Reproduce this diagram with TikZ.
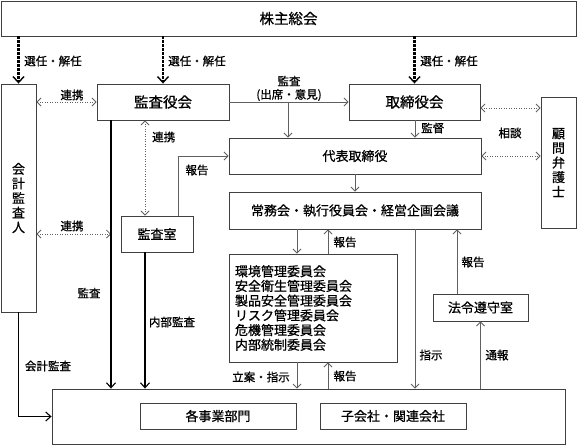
\documentclass[tikz,border=0pt]{standalone}
\usepackage{fontspec}
\setmainfont{Noto Sans CJK JP}[FakeBold=0.8]
\usetikzlibrary{arrows.meta}
\definecolor{boxcol}{HTML}{404040}
\definecolor{linecol}{HTML}{606060}
\begin{document}
\begin{tikzpicture}[x=1pt,y=-1pt,
  box/.style={draw=boxcol, line width=0.9pt, inner sep=0pt, font=\fontsize{13}{14.6}\selectfont},
  bigbox/.style={box, font=\fontsize{14.5}{16}\selectfont},
  lab/.style={inner sep=0pt, font=\fontsize{11.5}{13}\selectfont},
  thinarr/.style={draw=linecol, line width=0.8pt, -{Straight Barb[length=4pt 0,width=8pt 0,line width=0.8pt]}},
  thickarr/.style={draw=black, line width=1.1pt, -{Straight Barb[length=5pt 0,width=9pt 0,line width=1.1pt]}},
  dotarr/.style={draw=black, line width=2.2pt, dash pattern=on 2.2pt off 1.8pt, -{Straight Barb[length=6pt 0,width=11pt 0,line width=1.4pt]}},
  dotboth/.style={draw=linecol, line width=0.8pt, dash pattern=on 1pt off 1.5pt, {Straight Barb[length=4pt 0,width=8pt 0,line width=0.8pt]}-{Straight Barb[length=4pt 0,width=8pt 0,line width=0.8pt]}}
]
\useasboundingbox (0,0) rectangle (577,445);
% boxes
\node[bigbox, minimum width=575pt, minimum height=35pt] (sh) at (288.5,18.5) {株主総会};
\node[box, minimum width=35pt, minimum height=228pt, align=center] (kaikei) at (18.5,198) {会\\計\\監\\査\\人};
\node[bigbox, minimum width=132pt, minimum height=36pt] (kansayaku) at (163,102) {監査役会};
\node[bigbox, minimum width=131pt, minimum height=36pt] (torishimari) at (414.5,102) {取締役会};
\node[box, minimum width=35pt, minimum height=131pt, align=center] (komon) at (558.5,162.5) {顧\\問\\弁\\護\\士};
\node[box, minimum width=252pt, minimum height=36pt] (daihyo) at (355,156) {代表取締役};
\node[box, minimum width=252pt, minimum height=37pt] (jomu) at (355,210.5) {常務会・執行役員会・経営企画会議};
\node[box, minimum width=72pt, minimum height=36pt] (kansashitsu) at (157,234) {監査室};
\node[box, minimum width=168pt, minimum height=108pt, inner xsep=6pt, text width=156pt, align=left, font=\fontsize{13}{14.7}\selectfont] (iinkai) at (313,308) {環境管理委員会\\安全衛生管理委員会\\製品安全管理委員会\\リスク管理委員会\\危機管理委員会\\内部統制委員会};
\node[box, minimum width=95pt, minimum height=27pt] (horei) at (480.5,307.5) {法令遵守室};
\node[box, minimum width=513pt, minimum height=55pt] (outer) at (308.5,416.5) {};
\node[box, minimum width=156pt, minimum height=26pt] (jigyo) at (218,416) {各事業部門};
\node[box, minimum width=146pt, minimum height=26pt] (kogaisha) at (393,416) {子会社・関連会社};
% helper coordinates
\coordinate (xA) at (111,0);
\coordinate (xB) at (145,0);
\coordinate (xC) at (178,0);
\coordinate (xD) at (288,0);
\coordinate (xE) at (297,0);
\coordinate (xF) at (328,0);
\coordinate (xG) at (415,0);
\coordinate (xH) at (457,0);
\coordinate (yK) at (0,234);
\coordinate (yS) at (0,108);
% connectors
\draw[dotarr] (sh.south -| kaikei.north) -- (kaikei.north);
\draw[dotarr] (sh.south -| kansayaku.north) -- (kansayaku.north);
\draw[dotarr] (sh.south -| torishimari.north) -- (torishimari.north);
\draw[dotboth] (kaikei.east |- kansayaku.west) -- (kansayaku.west);
\draw[thinarr] (kansayaku.east) -- (torishimari.west);
\draw[thinarr] (kansayaku.east -| xD) -- (daihyo.north -| xD);
\draw[thinarr] (torishimari.south -| xG) -- (daihyo.north -| xG);
\draw[dotboth] (torishimari.east |- yS) -- (komon.west |- yS);
\draw[dotboth] (daihyo.east) -- (komon.west |- daihyo.east);
\draw[dotboth] (kansayaku.south -| xB) -- (kansashitsu.north -| xB);
\draw[thinarr] (kansashitsu.north -| xC) |- (daihyo.west);
\draw[dotboth] (kaikei.east |- yK) -- (xA |- yK);
\draw[thickarr] (kansayaku.south -| xA) -- (outer.north -| xA);
\draw[thickarr] (kansashitsu.south -| xB) -- (outer.north -| xB);
\draw[thickarr] (kaikei.south) |- (outer.west);
\draw[thinarr] (daihyo.south) -- (jomu.north);
\draw[thinarr] (jomu.south -| xE) -- (iinkai.north -| xE);
\draw[thinarr] (iinkai.north -| xF) -- (jomu.south -| xF);
\draw[thinarr] (iinkai.south -| xE) -- (outer.north -| xE);
\draw[thinarr] (outer.north -| xF) -- (iinkai.south -| xF);
\draw[thinarr] (jomu.south -| xG) -- (outer.north -| xG);
\draw[thinarr] (horei.north -| xH) -- (jomu.south -| xH);
\draw[thinarr] (outer.north -| horei.south) -- (horei.south);
% labels
\node[lab] (l1) at (53,61) {選任・解任};
\node[lab] (l2) at (197,61) {選任・解任};
\node[lab] (l3) at (449,61) {選任・解任};
\node[lab] (l4) at (72,95) {連携};
\node[lab] (l5) at (289,81) {監査};
\node[lab] (l6) at (289,95) {(出席・意見)};
\node[lab, anchor=west] (l7) at (421,128) {監督};
\node[lab] (l8) at (510,133) {相談};
\node[lab, anchor=west] (l9) at (152,137) {連携};
\node[lab] (l10) at (197,170) {報告};
\node[lab] (l11) at (72,226) {連携};
\node[lab] (l12) at (89,293) {監査};
\node[lab] (l13) at (172,322) {内部監査};
\node[lab] (l14) at (48,366) {会計監査};
\node[lab] (l15) at (345,242) {報告};
\node[lab] (l16) at (473,262) {報告};
\node[lab] (l17) at (261,377) {立案・指示};
\node[lab] (l18) at (345,376) {報告};
\node[lab] (l19) at (431,355) {指示};
\node[lab] (l20) at (497,355) {通報};
\end{tikzpicture}
\end{document}
